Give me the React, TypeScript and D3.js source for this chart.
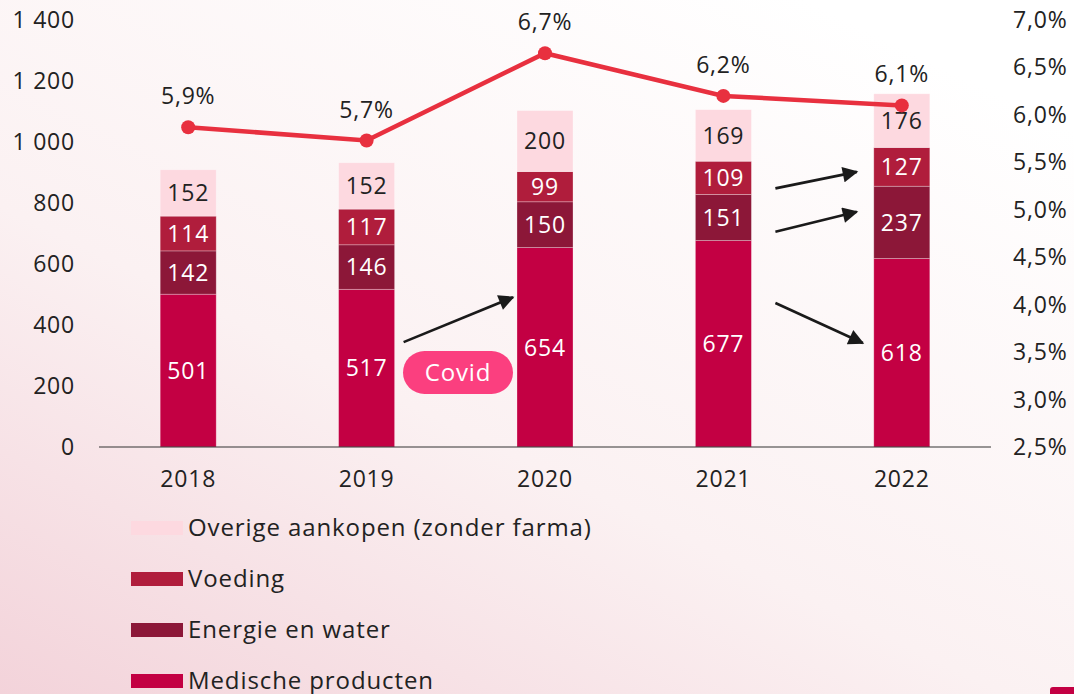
import React from "react";
import * as d3 from "d3";

const years = ["2018", "2019", "2020", "2021", "2022"];
const medische = [501, 517, 654, 677, 618];
const energie = [142, 146, 150, 151, 237];
const voeding = [114, 117, 99, 109, 127];
const overige = [152, 152, 200, 169, 176];
const aandeel = [5.87, 5.73, 6.65, 6.2, 6.1];
const leftTicks = [0, 200, 400, 600, 800, 1000, 1200, 1400];
const rightTicks = [2.5, 3.0, 3.5, 4.0, 4.5, 5.0, 5.5, 6.0, 6.5, 7.0];

const seriesNames = ["Medische producten", "Energie en water", "Voeding", "Overige aankopen (zonder farma)"];
const seriesValues = [medische, energie, voeding, overige];
const seriesColors = ["#c30043", "#8c1738", "#b01d3c", "#fdd9e0"];
const labelColors = ["#ffffff", "#ffffff", "#ffffff", "#222222"];
const legendOrder = [3, 2, 1, 0];

const W = 1074, H = 694;
const FONT = "'Open Sans', sans-serif";

const loc = d3.formatLocale({ decimal: ",", thousands: " ", grouping: [3], currency: ["€", ""] });
const fmtNum = loc.format(",d");
const fmtPct = (v: number) => loc.format(".1f")(v) + "%";

export default function App() {
  const x = d3.scaleBand<string>().domain(years).range([99, 991]).paddingInner(0.686).paddingOuter(0.343);
  const y = d3.scaleLinear().domain([0, 1400]).range([447, 20]);
  const y2 = d3.scaleLinear().domain([2.5, 7.0]).range([447, 20]);
  const bw = x.bandwidth();

  const table = years.map((yr, i) => {
    const row: any = { year: yr };
    seriesValues.forEach((s, k) => (row["s" + k] = s[i]));
    return row;
  });
  const stack = d3.stack<any>().keys(seriesValues.map((_, k) => "s" + k))(table);

  const cx = (yr: string) => (x(yr) as number) + bw / 2;
  const line = d3.line<number>().x((_, i) => cx(years[i])).y((d) => y2(d));

  // annotation arrows, expressed relative to bars and value scale
  const arrows = [
    { x1: (x("2019") as number) + bw + 9, v1: 344, x2: (x("2020") as number) - 4, v2: 491 },
    { x1: (x("2021") as number) + bw + 24, v1: 848, x2: (x("2022") as number) - 17, v2: 902 },
    { x1: (x("2021") as number) + bw + 24, v1: 706, x2: (x("2022") as number) - 17, v2: 771 },
    { x1: (x("2021") as number) + bw + 24, v1: 472, x2: (x("2022") as number) - 11, v2: 341 },
  ];

  const ls = 0.8;

  return (
    <svg width={W} height={H} style={{ position: "absolute", left: 0, top: 0 }} fontFamily={FONT}>
      <defs>
        <linearGradient id="bg" x1="0" y1="1" x2="0.75" y2="0">
          <stop offset="0" stopColor="#f3d3da" />
          <stop offset="0.45" stopColor="#fbf1f2" />
          <stop offset="1" stopColor="#ffffff" />
        </linearGradient>
        <marker id="ah" viewBox="0 0 10 10" refX="9" refY="5" markerWidth="6.5" markerHeight="6" orient="auto">
          <path d="M0,0 L10,5 L0,10 z" fill="#1a1a1a" />
        </marker>
      </defs>
      <rect x={0} y={0} width={W} height={H} fill="url(#bg)" />

      {/* left axis labels */}
      {leftTicks.map((t) => (
        <text key={t} x={75} y={y(t)} dy="0.35em" textAnchor="end" fontSize={23} letterSpacing={ls} fill="#222">
          {fmtNum(t)}
        </text>
      ))}
      {/* right axis labels */}
      {rightTicks.map((t) => (
        <text key={t} x={1013} y={y2(t)} dy="0.35em" textAnchor="start" fontSize={23} letterSpacing={ls} fill="#222">
          {fmtPct(t)}
        </text>
      ))}

      {/* bars */}
      {stack.map((layer, k) =>
        layer.map((d, i) => (
          <g key={k + "-" + i}>
            <rect
              x={x(years[i]) as number}
              y={y(d[1])}
              width={bw}
              height={y(d[0]) - y(d[1])}
              fill={seriesColors[k]}
              stroke="rgba(255,255,255,0.35)"
              strokeWidth={0.8}
            />
            <text
              x={cx(years[i])}
              y={(y(d[0]) + y(d[1])) / 2}
              dy="0.36em"
              textAnchor="middle"
              fontSize={23}
              letterSpacing={ls}
              fill={labelColors[k]}
            >
              {seriesValues[k][i]}
            </text>
          </g>
        ))
      )}

      {/* x axis */}
      <line x1={99} x2={991} y1={y(0)} y2={y(0)} stroke="#333" strokeWidth={1.2} />
      {years.map((yr) => (
        <text key={yr} x={cx(yr)} y={479} dy="0.35em" textAnchor="middle" fontSize={23} letterSpacing={ls} fill="#222">
          {yr}
        </text>
      ))}

      {/* line */}
      <path d={line(aandeel) || ""} fill="none" stroke="#e8303f" strokeWidth={4.5} />
      {aandeel.map((v, i) => (
        <g key={i}>
          <circle cx={cx(years[i])} cy={y2(v)} r={7} fill="#e8303f" />
          <text x={cx(years[i])} y={y2(v) - 31} dy="0.35em" textAnchor="middle" fontSize={23} letterSpacing={ls} fill="#222">
            {fmtPct(v)}
          </text>
        </g>
      ))}

      {/* arrows */}
      {arrows.map((a, i) => (
        <line key={i} x1={a.x1} y1={y(a.v1)} x2={a.x2} y2={y(a.v2)} stroke="#1a1a1a" strokeWidth={2.6} markerEnd="url(#ah)" />
      ))}

      {/* Covid pill */}
      <rect x={403} y={351} width={110} height={43} rx={21.5} fill="#fb3f7f" />
      <text x={458} y={372.5} dy="0.36em" textAnchor="middle" fontSize={24} letterSpacing={ls} fill="#ffffff">
        Covid
      </text>

      {/* legend */}
      {legendOrder.map((k, j) => (
        <g key={k} transform={`translate(131, ${528 + j * 51})`}>
          <rect x={0} y={-7} width={52} height={14} fill={seriesColors[k]} />
          <text x={57} y={0} dy="0.35em" fontSize={24} letterSpacing={0.9} fill="#222">
            {seriesNames[k]}
          </text>
        </g>
      ))}

      <rect x={1050} y={687} width={30} height={12} rx={3} fill="#c30043" />
    </svg>
  );
}
